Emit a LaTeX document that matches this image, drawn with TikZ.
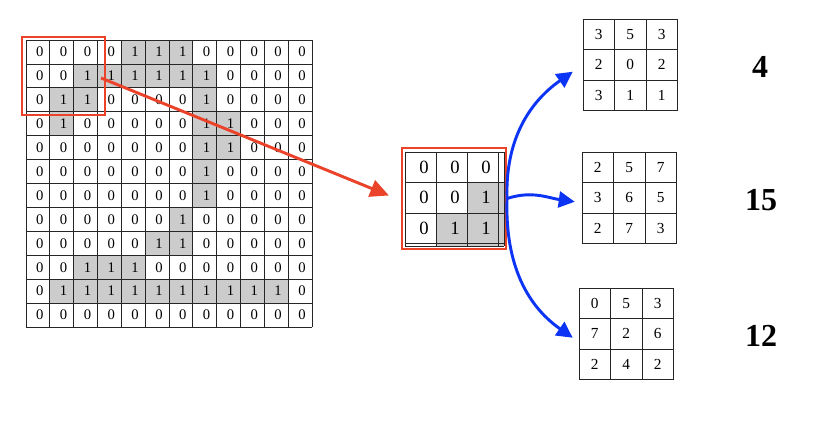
\documentclass[tikz,border=0pt]{standalone}
\usepackage{fontspec}
\setmainfont{Liberation Serif}
\usetikzlibrary{arrows.meta, fit, calc}
\definecolor{myred}{RGB}{234,67,42}
\definecolor{myblue}{RGB}{12,52,245}
\definecolor{mygray}{RGB}{204,204,204}

\tikzset{
  gridline/.style={line width=0.6pt, black!85},
  incell/.style={font=\fontsize{11}{13}\selectfont, inner sep=0pt},
  patchcell/.style={font=\fontsize{14}{16}\selectfont, inner sep=0pt},
  kercell/.style={font=\fontsize{11.5}{13}\selectfont, inner sep=0pt},
  redframe/.style={draw=myred, line width=1.6pt, inner sep=0pt},
  redarrow/.style={myred, line width=2.2pt, -{Triangle[length=14pt,width=13pt]}},
  bluearrow/.style={myblue, line width=2.2pt, -{Triangle[length=12pt,width=12pt]}},
  result/.style={font=\fontsize{24}{28}\selectfont\bfseries}
}

% one 3x3 kernel: x, y, name, rows
\newcommand{\drawkernel}[4]{%
  \foreach \rowvals [count=\r from 0] in {#4}{
    \foreach \v [count=\c from 0] in \rowvals
      \node[kercell] (#3-\r-\c) at (#1+\c*31.5+15.75, #2+\r*30.5+15.25) {\v};
  }
  \foreach \i in {0,...,3}{
    \draw[gridline] (#1+\i*31.5,#2) -- ++(0,91.5);
    \draw[gridline] (#1,#2+\i*30.5) -- ++(94.5,0);
  }
  \node[fit={(#1,#2) (#1+94.5,#2+91.5)}, inner sep=0pt] (#3) {};
}

\begin{document}
\begin{tikzpicture}[x=0.75pt,y=-0.75pt]
  \useasboundingbox (0,0) rectangle (819,423);
  \def\cw{23.83}
  \def\ch{23.92}
  \def\ox{26}
  \def\oy{40}

%input image:
  \foreach \rowvals [count=\r from 0] in {
    {0,0,0,0,1,1,1,0,0,0,0,0},
    {0,0,1,1,1,1,1,1,0,0,0,0},
    {0,1,1,0,0,0,0,1,0,0,0,0},
    {0,1,0,0,0,0,0,1,1,0,0,0},
    {0,0,0,0,0,0,0,1,1,0,0,0},
    {0,0,0,0,0,0,0,1,0,0,0,0},
    {0,0,0,0,0,0,0,1,0,0,0,0},
    {0,0,0,0,0,0,1,0,0,0,0,0},
    {0,0,0,0,0,1,1,0,0,0,0,0},
    {0,0,1,1,1,0,0,0,0,0,0,0},
    {0,1,1,1,1,1,1,1,1,1,1,0},
    {0,0,0,0,0,0,0,0,0,0,0,0}}{
    \foreach \v [count=\c from 0] in \rowvals {
      \ifnum\v=1
        \fill[mygray] (\ox+\c*\cw,\oy+\r*\ch) rectangle ++(\cw,\ch);
      \fi
      \node[incell] (in-\r-\c) at (\ox+\c*\cw+0.58*\cw, \oy+\r*\ch+0.5*\ch) {\v};
    }
  }
  \foreach \i in {0,...,12}{
    \draw[gridline] (\ox+\i*\cw,\oy) -- ++(0,12*\ch);
    \draw[gridline] (\ox,\oy+\i*\ch) -- ++(12*\cw,0);
  }
  \node[redframe, fit={(22,37) (105,115)}] (window) {};

%patch:
  \fill[mygray] (467,182.5) rectangle (504,246);
  \fill[mygray] (436,213) rectangle (467,246);
  \foreach \rowvals [count=\r from 0] in {{0,0,0},{0,0,1},{0,1,1}}{
    \foreach \v [count=\c from 0] in \rowvals
      \node[patchcell] (patch-\r-\c) at (405+\c*31+19, 152+\r*30.5+15.25) {\v};
  }
  \foreach \x in {405,436,467,498,504}
    \draw[gridline] (\x,152) -- (\x,246);
  \foreach \y in {152,182.5,213,243.5,246}
    \draw[gridline] (405,\y) -- (504,\y);
  \node[redframe, fit={(402,148) (506,249)}] (patch) {};

%kernels:
  \drawkernel{583}{19}{ker1}{{3,5,3},{2,0,2},{3,1,1}}
  \drawkernel{582}{152}{ker2}{{2,5,7},{3,6,5},{2,7,3}}
  \drawkernel{579}{288}{ker3}{{0,5,3},{7,2,6},{2,4,2}}

  \node[result] (res1) at (760,67) {4};
  \node[result] (res2) at (761,200) {15};
  \node[result] (res3) at (761,336) {12};

%arrows:
  \draw[redarrow] ($(window.east)+(-5,2)$) -- ($(patch.west)+(-12,-3)$);
  \draw[bluearrow] (patch.east) to[out=92,in=215] ($(ker1.west)+(-10,7)$);
  \draw[bluearrow] (patch.east) to[out=18,in=172] ($(ker2.west)+(-7,4)$);
  \draw[bluearrow] (patch.east) to[out=-92,in=145] ($(ker3.west)+(-6,4)$);

\end{tikzpicture}
\end{document}
